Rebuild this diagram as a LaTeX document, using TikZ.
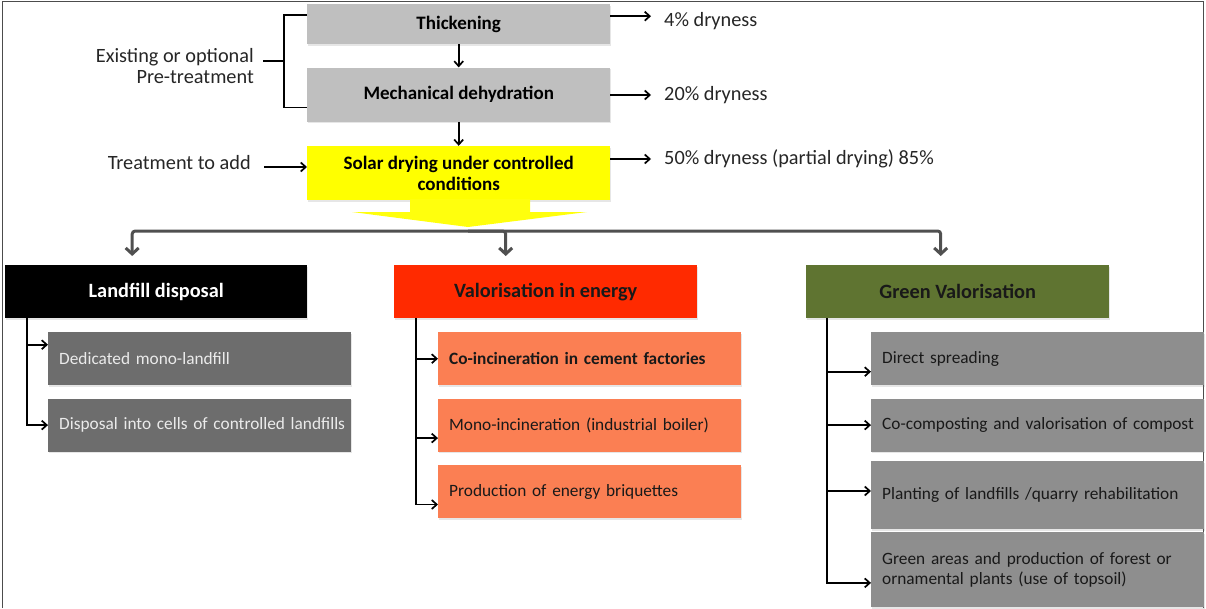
\documentclass[tikz,border=0pt]{standalone}
\usepackage{fontspec}
\setmainfont{Carlito}
\usepackage{xcolor}
\usetikzlibrary{arrows.meta, positioning, shadows}
\definecolor{pregray}{HTML}{BFBFBF}
\definecolor{solaryellow}{HTML}{FFFF00}
\definecolor{energyred}{HTML}{FF2A00}
\definecolor{olivegreen}{HTML}{5F7431}
\definecolor{landgray}{HTML}{6D6D6D}
\definecolor{salmon}{HTML}{FB7F53}
\definecolor{greengray}{HTML}{8E8E8E}
\definecolor{bargray}{HTML}{505050}
\newcommand{\dgfont}{\fontsize{20.3}{21.5}\selectfont}
\newcommand{\stepfont}{\fontsize{19}{21}\selectfont}
\newcommand{\itemfont}{\fontsize{17.3}{19.5}\selectfont}

\begin{document}
\begin{tikzpicture}[
  x=1pt, y=1pt,
  box/.style={inner sep=0pt, minimum width=303pt, minimum height=53pt, align=center, font=\dgfont\bfseries,
    drop shadow={shadow xshift=1pt, shadow yshift=-1.5pt, opacity=0.2}},
  item/.style={inner xsep=11pt, inner ysep=0pt, text width=281pt, minimum height=53pt, align=left, font=\itemfont,
    execute at begin node={\rightskip=0pt plus 1fil minus 40pt\hyphenpenalty=10000},
    drop shadow={shadow xshift=1pt, shadow yshift=-1.5pt, opacity=0.2}},
  lbl/.style={font=\dgfont, text=black!85, inner sep=0pt},
  arr/.style={-{Straight Barb[length=5pt, width=9pt]}, line width=1.7pt},
  split/.style={-{Straight Barb[length=6pt, width=13pt]}, line width=3pt, draw=bargray, rounded corners=3pt}
]
  \useasboundingbox (0,0) rectangle (1206,-608);
  \draw[line width=1pt, black!70] (2.5,-608) -- (2.5,-1.5) -- (1203.5,-1.5) -- (1203.5,-608);

  % pre-treatment chain
  \node[box, fill=pregray, minimum height=40pt, font=\stepfont\bfseries, anchor=north west] (thick) at (307,-4) {Thickening};
  \node[box, fill=pregray, minimum height=54pt, font=\stepfont\bfseries, below=23pt of thick] (mech) {Mechanical dehydration};
  \node[box, fill=solaryellow, minimum height=54pt, font=\stepfont\bfseries, below=24pt of mech] (solar) {Solar drying under controlled\\conditions};

  \draw[arr] (thick) -- (mech);
  \draw[arr] (mech) -- (solar);

  % yellow output arrow
  \fill[solaryellow!95!white] (410,-199) -- (530,-199) -- (530,-212) -- (587,-212) -- (468,-227)
    -- (352,-212) -- (410,-212) -- cycle;

  % left labels
  \node[lbl, align=right, anchor=east] (pre) at (254,-66) {Existing or optional\\Pre-treatment};
  \node[lbl, anchor=east] (treat) at (251,-163) {Treatment to add};
  \draw[line width=1.7pt] ([yshift=9pt]thick.west) -| ([xshift=-23pt,yshift=-13pt]mech.west) -- ([yshift=-13pt]mech.west);
  \draw[line width=1.7pt] ([xshift=9pt,yshift=5pt]pre.east) -- ([xshift=-23pt,yshift=5pt]pre.east -| thick.west);
  \draw[arr] ([xshift=13pt,yshift=-4pt]treat.east) -- ([yshift=-4pt]treat.east -| solar.west);

  % dryness labels
  \node[lbl, anchor=west] (dry1) at (664,-21) {4\% dryness};
  \node[lbl, anchor=west] (dry2) at (664,-95) {20\% dryness};
  \node[lbl, anchor=west] (dry3) at (664,-159) {50\% dryness (partial drying) 85\%};
  \draw[arr] ([yshift=8pt]thick.east) -- ([xshift=-13pt,yshift=8pt]thick.east -| dry1.west);
  \draw[arr] (mech.east |- dry2.west) -- ([xshift=-13pt]dry2.west);
  \draw[arr] (solar.east |- dry3.west) -- ([xshift=-13pt]dry3.west);

  % destinations
  \node[box, fill=black, text=white, minimum width=302pt, anchor=north west] (land) at (5,-265) {Landfill disposal};
  \node[box, fill=energyred, text=black!90, anchor=north west] (energy) at (394,-265) {Valorisation in energy};
  \node[box, fill=olivegreen, text=black!90, anchor=north west] (green) at (806,-265) {Green Valorisation};

  \coordinate (fork) at (468,-231);
  \draw[split, shorten >=9pt] (fork) -| ([xshift=-24pt]land.north);
  \draw[split, shorten >=9pt] (fork) -| ([xshift=-40pt]energy.north);
  \draw[split, shorten >=9pt] (fork) -| ([xshift=-17pt]green.north);

  % landfill items
  \node[item, fill=landgray, text=white!92!black, anchor=north west] (lf1) at (48,-332) {Dedicated mono-landfill};
  \node[item, fill=landgray, text=white!92!black, below=13pt of lf1] (lf2) {Disposal into cells of controlled landfills};

  % energy items
  \node[item, fill=salmon, text=black!90, anchor=north west, font=\itemfont\bfseries] (en1) at (438,-332) {Co-incineration in cement factories};
  \node[item, fill=salmon, text=black!90, below=13pt of en1] (en2) {Mono-incineration (industrial boiler)};
  \node[item, fill=salmon, text=black!90, below=13pt of en2] (en3) {Production of energy briquettes};

  % green items
  \node[item, fill=greengray, text=black!90, text width=311pt, anchor=north west] (gr1) at (871,-332) {Direct spreading};
  \node[item, fill=greengray, text=black!90, text width=311pt, below=13pt of gr1] (gr2) {Co-composting and valorisation of compost};
  \node[item, fill=greengray, text=black!90, text width=311pt, minimum height=68pt, below=9pt of gr2] (gr3) {Planting of landfills /quarry rehabilitation};
  \node[item, fill=greengray, text=black!90, text width=311pt, minimum height=75pt, below=3pt of gr3] (gr4) {Green areas and production of forest or\\ornamental plants (use of topsoil)};

  \draw[arr] ([xshift=22pt]land.south west) |- ([yshift=14pt]lf1.west);
  \draw[arr] ([xshift=22pt]land.south west) |- (lf2.west);
  \draw[arr] ([xshift=22pt]energy.south west) |- (en1.west);
  \draw[arr] ([xshift=22pt]energy.south west) |- ([yshift=-13pt]en2.west);
  \draw[arr] ([xshift=22pt]energy.south west) |- ([yshift=-13pt]en3.west);
  \draw[arr] ([xshift=21pt]green.south west) |- ([yshift=-13pt]gr1.west);
  \draw[arr] ([xshift=21pt]green.south west) |- (gr2.west);
  \draw[arr] ([xshift=21pt]green.south west) |- ([yshift=4pt]gr3.west);
  \draw[arr] ([xshift=21pt]green.south west) |- ([yshift=-13pt]gr4.west);
\end{tikzpicture}
\end{document}
